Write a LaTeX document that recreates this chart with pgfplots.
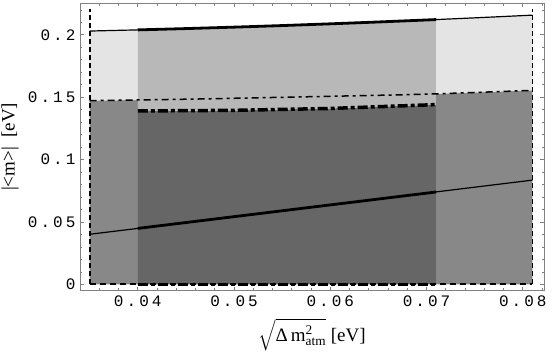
\documentclass[border=0pt]{standalone}
\usepackage{amsmath}
\usepackage{fontspec}
\setmainfont{Liberation Serif}
\newfontfamily\tickfont[LetterSpace=19]{Liberation Mono}
\usepackage{pgfplots}
\pgfplotsset{compat=1.18}
\definecolor{gA}{gray}{0.894}
\definecolor{gB}{gray}{0.722}
\definecolor{gC}{gray}{0.533}
\definecolor{gD}{gray}{0.4}
\begin{document}
\begin{tikzpicture}
\begin{axis}[
  scale only axis, width=464pt, height=287.7pt,
  xmin=0.034, xmax=0.0822, ymin=-0.005, ymax=0.2255,
  axis line style={gray, line width=0.8pt},
  tick align=inside, major tick length=4pt, minor tick length=2.5pt,
  tick style={gray, line width=0.7pt},
  scaled ticks=false,
  xtick={0.04,0.05,0.06,0.07,0.08},
  xticklabels={0.04,0.05,0.06,0.07,0.08},
  minor xtick={0.034,0.036,0.038,0.042,0.044,0.046,0.048,0.052,0.054,0.056,0.058,0.062,0.064,0.066,0.068,0.072,0.074,0.076,0.078,0.082},
  ytick={0,0.05,0.1,0.15,0.2},
  yticklabels={0,0.05,0.1,0.15,0.2},
  minor ytick={0.01,0.02,0.03,0.04,0.06,0.07,0.08,0.09,0.11,0.12,0.13,0.14,0.16,0.17,0.18,0.19,0.21,0.22},
  ticklabel style={font=\tickfont\fontsize{16}{16}\selectfont},
  xticklabel style={yshift=-2pt},
  yticklabel style={xshift=-1pt},
  xlabel={$\sqrt{\text{Δ\,m}^{\text{2}}_{\text{atm}}}$ [eV]},
  ylabel={|<m>|\ \ [eV]},
  label style={font=\fontsize{19}{19}\selectfont},
  xlabel style={at={(axis description cs:0.5,-0.1529)}, anchor=center},
  ylabel style={at={(axis description cs:-0.1509,0.5)}, anchor=center},
]
% shaded regions
\addplot[fill=gC, draw=none] coordinates {(0.035,0)(0.04,0)(0.04,0.1478)(0.035,0.1473)} -- cycle;
\addplot[fill=gA, draw=none] coordinates {(0.035,0.1473)(0.04,0.1478)(0.04,0.20396)(0.035,0.20304)} -- cycle;
\addplot[fill=gD, draw=none] coordinates {(0.04,0)(0.071,0)(0.071,0.1441)(0.06,0.1410)(0.05,0.1395)(0.04,0.1390)} -- cycle;
\addplot[fill=gB, draw=none] coordinates {(0.04,0.1390)(0.05,0.1395)(0.06,0.1410)(0.071,0.1441)(0.071,0.21223)(0.065,0.2103)(0.06,0.20881)(0.055,0.20742)(0.05,0.20616)(0.045,0.205)(0.04,0.20396)} -- cycle;
\addplot[fill=gC, draw=none] coordinates {(0.071,0)(0.081,0)(0.081,0.1555)(0.071,0.1527)} -- cycle;
\addplot[fill=gA, draw=none] coordinates {(0.071,0.1527)(0.081,0.1555)(0.081,0.21578)(0.08,0.21541)(0.075,0.2136)(0.071,0.21223)} -- cycle;
% top solid line
\addplot[black, line width=1.2pt] coordinates {(0.035,0.20304)(0.04,0.20396)(0.045,0.205)(0.05,0.20616)(0.055,0.20742)(0.06,0.20881)(0.065,0.2103)(0.07,0.2119)(0.071,0.21223)(0.075,0.2136)(0.08,0.21541)(0.081,0.21578)};
\addplot[black, line width=2.8pt] coordinates {(0.04,0.20396)(0.045,0.205)(0.05,0.20616)(0.055,0.20742)(0.06,0.20881)(0.065,0.2103)(0.07,0.2119)(0.071,0.21223)};
% lower solid line
\addplot[black, line width=1.2pt] coordinates {(0.035,0.0402)(0.081,0.0836)};
\addplot[black, line width=2.8pt] coordinates {(0.04,0.0449)(0.071,0.0741)};
% thin dash-dot
\addplot[black, line width=1.5pt, dash pattern=on 7pt off 4pt on 3pt off 4pt] coordinates {(0.035,0.1473)(0.04,0.1478)(0.0464,0.1486)(0.0672,0.1519)(0.071,0.1527)(0.081,0.1555)};
% thick dash-dot
\addplot[black, line width=3.5pt, dash pattern=on 10pt off 3pt on 4pt off 3pt] coordinates {(0.04,0.1390)(0.05,0.1395)(0.06,0.1410)(0.071,0.1441)};
% bottom lines
\addplot[black, line width=2pt, dash pattern=on 6pt off 4pt] coordinates {(0.035,0)(0.081,0)};
\addplot[black, line width=3.5pt, dash pattern=on 10pt off 3pt on 4pt off 3pt] coordinates {(0.04,0)(0.071,0)};
% vertical dashed lines
\addplot[black, line width=1.8pt, dash pattern=on 5pt off 3pt] coordinates {(0.035,0)(0.035,0.221)};
\addplot[black, line width=1.8pt, dash pattern=on 5pt off 3pt] coordinates {(0.081,0)(0.081,0.221)};
\end{axis}
\pgfresetboundingbox
\path[use as bounding box] ([xshift=-80pt,yshift=-63.3pt]current axis.south west) rectangle ([xshift=14pt,yshift=3pt]current axis.north east);
\end{tikzpicture}
\end{document}
